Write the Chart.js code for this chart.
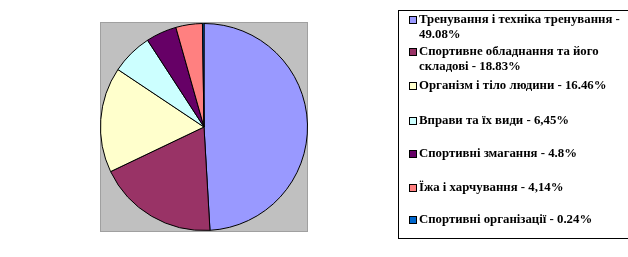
<!DOCTYPE html>
<html>
<head>
<meta charset="utf-8">
<script src="https://cdn.jsdelivr.net/npm/chart.js@4"></script>
<style>
  html, body { margin: 0; padding: 0; background: #fff; }
  #wrap { position: relative; width: 628px; height: 257px; overflow: hidden; }
  #pie { position: absolute; left: 0; top: 0; }
  #legend {
    position: absolute; left: 398px; top: 10px; width: 260px; height: 229px;
    border: 1px solid #000; box-sizing: border-box;
    font: bold 12.8px "Liberation Serif", "Times New Roman", serif; color: #000;
  }
  .item { position: absolute; left: 10px; width: 216px; line-height: 15px; }
  .sw { position: absolute; left: 0; top: 4px; width: 6px; height: 6px; border: 1px solid #000; }
  .txt { margin-left: 10px; }
</style>
</head>
<body>
<div id="wrap">
  <canvas id="pie" width="628" height="257"></canvas>
  <div id="legend"></div>
</div>
<script>
const categories = [
  'Тренування і техніка тренування',
  'Спортивне обладнання та його складові',
  'Організм і тіло людини',
  'Вправи та їх види',
  'Спортивні змагання',
  'Їжа і харчування',
  'Спортивні організації'
];
const values = [49.08, 18.83, 16.46, 6.45, 4.8, 4.14, 0.24];
const valueLabels = ['49.08%', '18.83%', '16.46%', '6,45%', '4.8%', '4,14%', '0.24%'];
const colors = ['#9999ff', '#993366', '#ffffcc', '#ccffff', '#660066', '#ff8080', '#0066cc'];
const legendTops = [1, 33, 67, 102, 135, 169, 201];

// grey plot area behind the pie
const plotBg = {
  id: 'plotBg',
  beforeDraw(chart) {
    const { ctx, chartArea: a } = chart;
    ctx.save();
    ctx.fillStyle = '#c0c0c0';
    ctx.fillRect(a.left, a.top, a.right - a.left, a.bottom - a.top);
    ctx.strokeStyle = '#a0a0a0';
    ctx.lineWidth = 1;
    ctx.strokeRect(a.left + 0.5, a.top + 0.5, a.right - a.left - 1, a.bottom - a.top - 1);
    ctx.restore();
  }
};

new Chart(document.getElementById('pie'), {
  type: 'pie',
  data: {
    labels: categories,
    datasets: [{
      data: values,
      backgroundColor: colors,
      borderColor: '#000',
      borderWidth: 1
    }]
  },
  options: {
    responsive: false,
    animation: false,
    layout: { padding: { left: 100, right: 320, top: 22, bottom: 25 } },
    plugins: { legend: { display: false }, tooltip: { enabled: false } }
  },
  plugins: [plotBg]
});

const legend = document.getElementById('legend');
categories.forEach((name, i) => {
  const item = document.createElement('div');
  item.className = 'item';
  item.style.top = legendTops[i] + 'px';
  item.innerHTML = '<span class="sw" style="background:' + colors[i] + '"></span>' +
    '<div class="txt">' + name + ' - ' + valueLabels[i] + '</div>';
  legend.appendChild(item);
});
</script>
</body>
</html>
